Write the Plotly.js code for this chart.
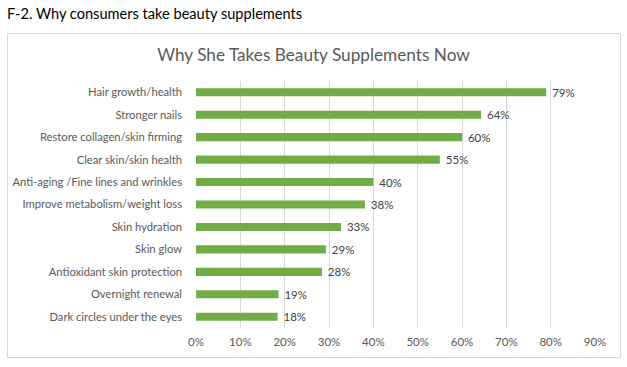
<!DOCTYPE html>
<html>
<head>
<meta charset="utf-8">
<script src="https://cdn.plot.ly/plotly-3.0.1.min.js"></script>
<style>html,body{margin:0;padding:0;background:#fff;}#chart{width:627px;height:367px;}</style>
</head>
<body>
<div id="chart"></div>
<script>
const categories = [
  "Hair growth/health",
  "Stronger nails",
  "Restore collagen/skin firming",
  "Clear skin/skin health",
  "Anti-aging /Fine lines and wrinkles",
  "Improve metabolism/weight loss",
  "Skin hydration",
  "Skin glow",
  "Antioxidant skin protection",
  "Overnight renewal",
  "Dark circles under the eyes"
];
const values = [0.79, 0.643, 0.60, 0.55, 0.40, 0.381, 0.327, 0.293, 0.284, 0.186, 0.184];
const xTickVals = [0, 0.1, 0.2, 0.3, 0.4, 0.5, 0.6, 0.7, 0.8, 0.9];
const xTickText = ["0%", "10%", "20%", "30%", "40%", "50%", "60%", "70%", "80%", "90%"];
const chartTitle = "Why She Takes Beauty Supplements Now";
const pageTitle = "F-2. Why consumers take beauty supplements";

const W = 627, H = 367;
const M = {l: 196, r: 32, t: 81, b: 39};
const pw = W - M.l - M.r, ph = H - M.t - M.b;
const px2x = p => (p - M.l) / pw;
const py2y = p => (H - M.b - p) / ph;

const font = "Lato, Carlito, Calibri, 'Open Sans', sans-serif";

const trace = {
  type: "bar",
  orientation: "h",
  y: categories,
  x: values,
  marker: {color: "#70AD47"},
  text: values.map(v => " " + Math.round(v * 100) + "%"),
  textposition: "outside",
  constraintext: "none",
  cliponaxis: false,
  textfont: {family: font, size: 11.5, color: "#404040"},
  hoverinfo: "none"
};

const layout = {
  width: W, height: H,
  margin: M,
  paper_bgcolor: "#ffffff",
  plot_bgcolor: "#ffffff",
  showlegend: false,
  bargap: 0.64,
  font: {family: font, size: 11.2, color: "#595959"},
  xaxis: {
    range: [0, 0.9],
    tickvals: xTickVals,
    ticktext: xTickText,
    showgrid: true,
    gridcolor: "#D9D9D9",
    gridwidth: 1,
    zeroline: false,
    showline: false,
    ticks: "",
    ticklabelstandoff: 5,
    tickfont: {family: font, size: 11.5, color: "#595959"},
    fixedrange: true
  },
  yaxis: {
    autorange: "reversed",
    showgrid: false,
    zeroline: false,
    showline: false,
    ticks: "",
    ticklabelstandoff: 13,
    tickfont: {family: font, size: 11.2, color: "#595959"},
    fixedrange: true
  },
  title: {
    text: chartTitle,
    font: {family: font, size: 17.2, color: "#595959"},
    x: 0.5, xref: "container", xanchor: "center",
    y: 1 - 55 / H, yref: "container", yanchor: "middle"
  },
  annotations: [{
    text: pageTitle,
    xref: "paper", yref: "paper",
    x: px2x(5), y: py2y(13),
    xanchor: "left", yanchor: "middle",
    showarrow: false,
    font: {family: font, size: 14.6, color: "#000000"}
  }],
  shapes: [{
    type: "rect",
    xref: "paper", yref: "paper",
    x0: px2x(7.5), x1: px2x(620.5),
    y0: py2y(357.5), y1: py2y(33.5),
    line: {color: "#D9D9D9", width: 1},
    fillcolor: "rgba(0,0,0,0)",
    layer: "below"
  }]
};

Plotly.newPlot("chart", [trace], layout, {staticPlot: true, displayModeBar: false});
</script>
</body>
</html>
